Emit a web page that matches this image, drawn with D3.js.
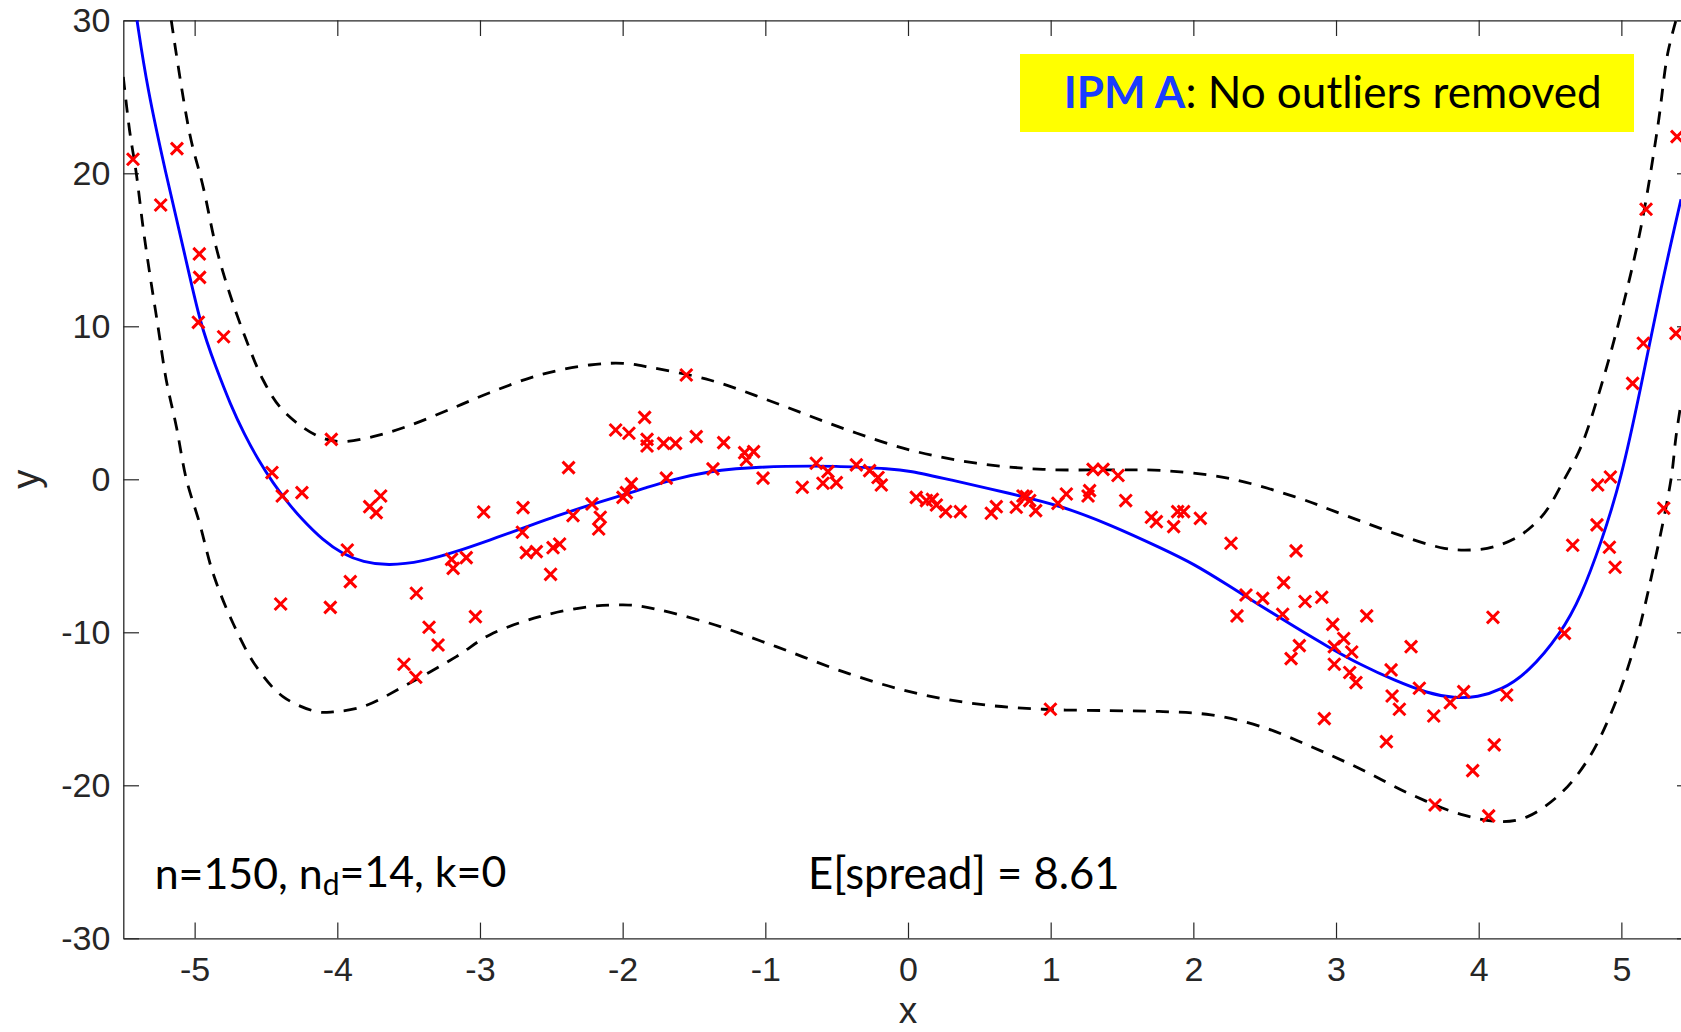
<!DOCTYPE html>
<html>
<head>
<meta charset="utf-8">
<script src="https://cdn.jsdelivr.net/npm/d3@7"></script>
<style>
html,body{margin:0;padding:0;background:#fff;overflow:hidden}
</style>
</head>
<body>
<svg id="chart" width="1681" height="1032"></svg>
<script>
// ---------- data ----------
const xTicks = [-5, -4, -3, -2, -1, 0, 1, 2, 3, 4, 5];
const yTicks = [-30, -20, -10, 0, 10, 20, 30];

// fitted polynomial (blue solid)
const fitX = [-5.404, -5.334, -5.203, -5.07, -4.96, -4.85, -4.75, -4.65, -4.55, -4.45, -4.35, -4.25, -4.10, -3.96, -3.82, -3.645, -3.40, -3.166, -2.932, -2.699, -2.465, -2.231, -1.998, -1.857, -1.65, -1.39, -1.20, -1.04, -0.85, -0.689, -0.50, -0.339, -0.15, 0.012, 0.28, 0.713, 1.063, 1.414, 1.787, 2.007, 2.241, 2.474, 2.708, 2.942, 3.175, 3.409, 3.642, 3.83, 3.993, 4.157, 4.343, 4.577, 4.717, 4.857, 4.998, 5.138, 5.278, 5.418];
const fitY = [30.0, 25.66, 20.0, 14.77, 10.1, 7.3, 4.9, 2.9, 1.2, -0.25, -1.5, -2.6, -4.0, -4.9, -5.4, -5.66, -5.38, -4.73, -3.97, -3.20, -2.40, -1.68, -1.02, -0.62, 0.0, 0.52, 0.70, 0.79, 0.85, 0.87, 0.85, 0.78, 0.70, 0.57, 0.0, -0.92, -1.70, -2.95, -4.55, -5.55, -6.91, -8.28, -9.63, -10.94, -12.14, -13.14, -13.99, -14.31, -14.25, -13.77, -12.68, -10.07, -7.67, -4.18, -0.04, 6.06, 12.59, 18.3];

// upper spread bound (black dashed)
const upperX = [-5.164, -5.035, -4.94, -4.85, -4.755, -4.638, -4.52, -4.404, -4.264, -4.10, -3.96, -3.75, -3.516, -3.166, -2.932, -2.582, -2.231, -1.998, -1.799, -1.39, -0.923, -0.456, 0.012, 0.479, 0.946, 1.414, 1.787, 2.241, 2.708, 3.058, 3.409, 3.759, 3.946, 4.110, 4.296, 4.460, 4.600, 4.717, 4.857, 4.998, 5.138, 5.255, 5.325, 5.383];
const upperY = [30.0, 22.6, 19.1, 15.2, 12.16, 9.1, 6.49, 4.75, 3.55, 2.68, 2.46, 2.79, 3.44, 4.75, 5.66, 6.82, 7.47, 7.58, 7.3, 6.49, 4.97, 3.33, 1.92, 1.05, 0.65, 0.61, 0.57, 0.07, -1.13, -2.33, -3.53, -4.51, -4.62, -4.40, -3.64, -2.22, 0.0, 2.13, 6.06, 10.85, 16.51, 23.05, 27.84, 30.0];

// lower spread bound (black dashed)
const lowerX = [-5.5, -5.456, -5.409, -5.362, -5.315, -5.257, -5.199, -5.128, -5.058, -4.965, -4.871, -4.731, -4.568, -4.381, -4.147, -4.03, -3.82, -3.516, -3.166, -2.932, -2.582, -2.231, -1.998, -1.857, -1.39, -0.923, -0.456, 0.012, 0.479, 0.946, 1.414, 1.787, 2.124, 2.474, 2.825, 3.175, 3.526, 3.876, 4.157, 4.343, 4.577, 4.764, 4.928, 5.091, 5.231, 5.348, 5.383, 5.418];
const lowerY = [26.3, 22.8, 20.0, 16.5, 13.46, 10.0, 6.49, 3.44, 0.0, -2.88, -6.14, -9.41, -12.24, -14.2, -15.18, -15.2, -14.86, -13.44, -11.59, -10.17, -8.98, -8.32, -8.21, -8.32, -9.41, -10.94, -12.57, -13.88, -14.68, -15.03, -15.12, -15.18, -15.4, -16.16, -17.47, -18.95, -20.6, -21.9, -22.37, -22.05, -20.52, -18.34, -15.29, -10.94, -5.49, 0.0, 2.79, 4.97];

// observed samples (red crosses)
const pointX = [-5.432, -5.124, -5.238, -4.967, -4.965, -4.974, -4.797, -4.042, -4.458, -2.379, -2.049, -1.956,
  -1.846, -1.829, -1.829, -1.713, -1.629, -1.554, -1.484, -1.292, -1.145, -1.082, -1.133, -1.367, -1.694, -1.016,
  -0.643, -0.561, -0.362, -0.269, -0.210, 1.297, 1.367, 1.472,
  -0.741, -0.596, -0.502, -0.187, 0.058, 0.129, 0.171, 0.199, 0.264, 0.367, 0.584, 0.619, 0.759, 0.806, 0.829, 0.853,
  0.895, 1.051, 1.110, 1.262, 1.273, 1.526, 1.706, 1.741, 0.998,
  1.862, 1.890, 1.932, 2.049, 2.264, 2.720, 2.306, 2.369, 2.486, 2.633, 2.626, 2.783, 2.900, 2.743, 2.685, 2.977,
  3.054, 2.988, 3.110, 2.988, 3.096, 3.140, 3.215, 3.526, 3.386, 3.393, 3.444, 3.584, 3.685, 3.801, 3.895, 4.196,
  4.100, 2.918, 3.353, 4.109, 3.958, 3.694, 4.070, 4.601, 4.659, 4.829, 4.916, 4.956, 4.834, 4.923, 5.297,
  5.079, 5.154, 5.383, 5.173, 5.390,
  -4.386, -4.248, -4.397, -4.049, -3.93, -3.909, -3.773, -3.696, -3.727, -3.446, -3.357, -3.294, -3.533, -3.45,
  -3.199, -3.188, -3.096, -2.974, -3.032, -2.698, -2.703, -2.675, -2.605, -2.505, -2.488, -2.442, -2.348, -2.215,
  -2.157, -2.168, -1.998, -1.974, -1.939];
const pointY = [20.92, 21.61, 17.93, 14.73, 13.20, 10.26, 9.32, 2.61, 0.44, 0.76, 3.22, 3.01,
  4.05, 2.61, 2.18, 2.35, 2.35, 6.82, 2.79, 2.40, 1.74, 1.81, 1.26, 0.68, 0.08, 0.08,
  1.05, 0.50, 0.94, 0.57, 0.12, 0.65, 0.65, 0.25,
  -0.52, -0.26, -0.22, -0.37, -1.18, -1.39, -1.31, -1.68, -2.11, -2.11, -2.22, -1.79, -1.83, -1.09, -1.13, -1.39,
  -2.05, -1.57, -0.96, -1.09, -0.74, -1.39, -2.48, -2.77, -15.03,
  -3.09, -2.11, -2.11, -2.55, -4.18, -4.68, -8.93, -7.56, -7.78, -6.75, -8.82, -7.99, -7.71, -10.87, -11.72, -9.48,
  -10.41, -10.94, -11.29, -12.09, -12.63, -13.29, -8.93, -10.94, -12.46, -14.16, -15.03, -13.66, -15.47, -14.60, -13.88, -14.10,
  -9.02, -15.64, -17.15, -17.36, -19.04, -21.29, -22.0, -10.07, -4.31, -2.98, -4.44, -5.75, -0.37, 0.15, -1.89,
  6.27, 8.89, 9.54, 17.65, 22.40,
  -1.09, -0.87, -8.15, -8.37, -4.62, -6.69, -1.79, -1.09, -2.18, -7.45, -9.67, -10.83, -12.09, -12.94,
  -5.23, -5.82, -5.12, -2.14, -8.98, -1.85, -3.46, -4.79, -4.73, -6.21, -4.47, -4.23, -2.37, -1.61,
  -2.48, -3.25, -1.18, -0.87, -0.30];

const xLabel = "x";
const yLabel = "y";
const legendBold = "IPM A";
const legendRest = ": No outliers removed";
const statsPre = "n=150, n";
const statsSub = "d";
const statsPost = "=14, k=0";
const spreadText = "E[spread] = 8.61";

// ---------- layout ----------
const plot = {left: 123.3, right: 1692.7, top: 20.3, bottom: 938.3};
const axisColor = "#262626";
const tickLen = 15.7;

const svg = d3.select("#chart");
const x = d3.scaleLinear().domain([-5.5, 5.5]).range([plot.left, plot.right]);
const y = d3.scaleLinear().domain([-30, 30]).range([plot.bottom, plot.top]);

svg.append("defs").append("clipPath").attr("id", "clip")
  .append("rect").attr("x", plot.left).attr("y", plot.top)
  .attr("width", plot.right - plot.left).attr("height", plot.bottom - plot.top);

// ---------- axes ----------
const tickFont = "'Liberation Sans', Arial, Helvetica, sans-serif";
function styleAxis(g, showLabels) {
  g.select(".domain").attr("stroke", axisColor).attr("stroke-width", 1.3);
  g.selectAll(".tick line").attr("stroke", axisColor).attr("stroke-width", 1.2);
  g.selectAll(".tick text").attr("fill", axisColor)
    .style("font-family", tickFont).style("font-size", "34px");
  if (!showLabels) g.selectAll(".tick text").remove();
  g.attr("font-family", null).attr("font-size", null);
}

const fmt = d => String(d);
svg.append("g").attr("transform", `translate(0,${plot.bottom})`)
  .call(d3.axisBottom(x).tickValues(xTicks).tickFormat(fmt).tickSizeInner(-tickLen).tickSizeOuter(0).tickPadding(18.5))
  .call(g => styleAxis(g, true));
svg.append("g").attr("transform", `translate(0,${plot.top})`)
  .call(d3.axisTop(x).tickValues(xTicks).tickSizeInner(-tickLen).tickSizeOuter(0))
  .call(g => styleAxis(g, false));
svg.append("g").attr("transform", `translate(${plot.left},0)`)
  .call(d3.axisLeft(y).tickValues(yTicks).tickFormat(fmt).tickSizeInner(-tickLen).tickSizeOuter(0).tickPadding(13))
  .call(g => styleAxis(g, true));
svg.append("g").attr("transform", `translate(${plot.right},0)`)
  .call(d3.axisRight(y).tickValues(yTicks).tickSizeInner(-tickLen).tickSizeOuter(0))
  .call(g => styleAxis(g, false));

// axis labels
svg.append("text").attr("x", x(0)).attr("y", 1023)
  .attr("text-anchor", "middle").attr("fill", axisColor)
  .style("font-family", tickFont).style("font-size", "37px").text(xLabel);
svg.append("text").attr("transform", `translate(39,${(plot.top + plot.bottom) / 2}) rotate(-90)`)
  .attr("text-anchor", "middle").attr("fill", axisColor)
  .style("font-family", tickFont).style("font-size", "38px").text(yLabel);

// ---------- curves ----------
const layer = svg.append("g").attr("clip-path", "url(#clip)");
const zip = (a, b) => a.map((v, i) => [v, b[i]]);
const dashLine = d3.line().x(d => x(d[0])).y(d => y(d[1])).curve(d3.curveCatmullRom.alpha(0.5));
const fitLine = d3.line().x(d => x(d[0])).y(d => y(d[1])).curve(d3.curveBasis);

layer.append("path").datum(zip(upperX, upperY)).attr("d", dashLine)
  .attr("fill", "none").attr("stroke", "#000").attr("stroke-width", 2.8).attr("stroke-dasharray", "13,10");
layer.append("path").datum(zip(lowerX, lowerY)).attr("d", dashLine)
  .attr("fill", "none").attr("stroke", "#000").attr("stroke-width", 2.8).attr("stroke-dasharray", "13,10");
layer.append("path").datum(zip(fitX, fitY)).attr("d", fitLine)
  .attr("fill", "none").attr("stroke", "#0000ff").attr("stroke-width", 2.9);

// ---------- points ----------
const cross = d3.symbol().type(d3.symbolTimes).size(96);
layer.append("g").selectAll("path").data(zip(pointX, pointY)).join("path")
  .attr("transform", d => `translate(${x(d[0])},${y(d[1])})`)
  .attr("d", cross).attr("fill", "none").attr("stroke", "#ff0000").attr("stroke-width", 3);

// ---------- annotations ----------
const annoFont = "Lato, 'Open Sans', sans-serif";
function fitWidth(t, target) {
  const w = t.node().getComputedTextLength();
  const fs = parseFloat(t.style("font-size"));
  if (w > 0) t.style("font-size", (fs * target / w) + "px");
}

svg.append("rect").attr("x", 1020).attr("y", 54).attr("width", 614).attr("height", 78).attr("fill", "#ffff00");
const leg = svg.append("text").attr("x", 1063.7).attr("y", 108.3)
  .style("font-family", annoFont).style("font-size", "44px").attr("fill", "#000");
leg.append("tspan").attr("fill", "#1a3cff").style("font-weight", "bold").text(legendBold);
leg.append("tspan").text(legendRest);
fitWidth(leg, 538);

const stats = svg.append("text").attr("x", 154.7).attr("y", 889.3)
  .style("font-family", annoFont).style("font-size", "44px").attr("fill", "#000");
stats.append("tspan").text(statsPre);
stats.append("tspan").attr("dy", "0.2em").style("font-size", "0.7em").text(statsSub);
stats.append("tspan").attr("dy", "-0.2em").text(statsPost);
fitWidth(stats, 351.6);

const spread = svg.append("text").attr("x", 808).attr("y", 889.3)
  .style("font-family", annoFont).style("font-size", "44px").attr("fill", "#000").text(spreadText);
fitWidth(spread, 311.7);
</script>
</body>
</html>
